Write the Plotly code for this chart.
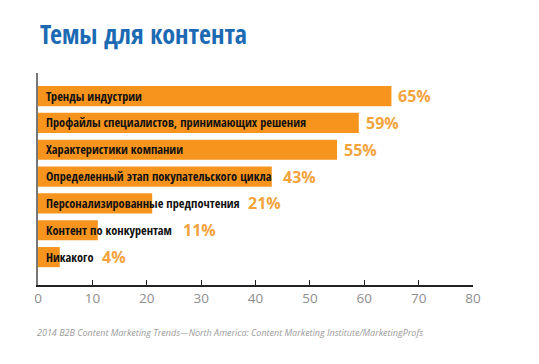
import plotly.graph_objects as go

categories = [
    "Тренды индустрии",
    "Профайлы специалистов, принимающих решения",
    "Характеристики компании",
    "Определенный этап покупательского цикла",
    "Персонализированные предпочтения",
    "Контент по конкурентам",
    "Никакого",
]
values = [65, 59, 55, 43, 21, 11, 4]
value_labels = ["65%", "59%", "55%", "43%", "21%", "11%", "4%"]
tick_values = [0, 10, 20, 30, 40, 50, 60, 70, 80]

# page has an 8px body margin, so the figure is drawn 8px in from the top-left
W, H = 523, 348
ML, MR, MT, MB = 30, 58, 65, 71
XMAX = 80
px_per_unit = (W - ML - MR) / XMAX

BAR = "#F7941D"
VAL = "#F3A43C"
COND = "Open Sans Condensed, Roboto Condensed, sans-serif"
LABEL_SIZE = 12.3


def text_px(s, size):
    w = 0.0
    for ch in s:
        if ch == " ":
            w += 0.2
        elif ch in "шщжмыюфШЩЖМЫЮФ":
            w += 0.66
        elif ch in ",.":
            w += 0.22
        elif ch.isupper():
            w += 0.55
        else:
            w += 0.5
    return w * size


fig = go.Figure()
fig.add_trace(go.Bar(
    y=list(range(len(categories))),
    x=values,
    orientation="h",
    marker=dict(color=BAR, line=dict(width=0)),
    width=0.75,
    hoverinfo="skip",
))

for i, (c, v, lab) in enumerate(zip(categories, values, value_labels)):
    fig.add_annotation(
        x=0, y=i, text="<b>" + c + "</b>", showarrow=False, xanchor="left", yanchor="middle",
        xshift=6, font=dict(family=COND, size=LABEL_SIZE, color="#111111"),
    )
    text_end = (7 + text_px(c, LABEL_SIZE)) / px_per_unit
    fig.add_annotation(
        x=max(v, text_end), y=i, text="<b>" + lab + "</b>", showarrow=False,
        xanchor="left", yanchor="middle", xshift=5,
        font=dict(family="Open Sans, sans-serif", size=16, color=VAL),
    )

fig.add_annotation(
    xref="paper", yref="paper", x=0, y=1, xshift=0, yshift=39,
    text="<b>Темы для контента</b>", showarrow=False, xanchor="left", yanchor="middle",
    font=dict(family=COND, size=26, color="#1B6AB3"),
)
fig.add_annotation(
    xref="paper", yref="paper", x=0, y=0, xshift=-3, yshift=-47,
    text="<i>2014 B2B Content Marketing Trends—North America: Content Marketing Institute/MarketingProfs</i>",
    showarrow=False, xanchor="left", yanchor="middle",
    font=dict(family="Open Sans, sans-serif", size=9, color="#9A9A9A"),
)

fig.update_layout(
    width=W, height=H,
    margin=dict(l=ML, r=MR, t=MT, b=MB),
    paper_bgcolor="white", plot_bgcolor="white",
    showlegend=False,
    xaxis=dict(
        range=[0, XMAX], tickvals=tick_values, showgrid=False, zeroline=False,
        showline=True, linecolor="#222222", linewidth=1.5,
        ticks="inside", ticklen=5, tickcolor="#222222", tickwidth=1,
        tickfont=dict(family="Open Sans, sans-serif", size=13.5, color="#8E8E8E"),
    ),
    yaxis=dict(
        range=[7.04, -0.86], showticklabels=False, showgrid=False, zeroline=False,
        showline=True, linecolor="#777777", linewidth=1.5, ticks="",
    ),
)

fig.write_html("out.html")
